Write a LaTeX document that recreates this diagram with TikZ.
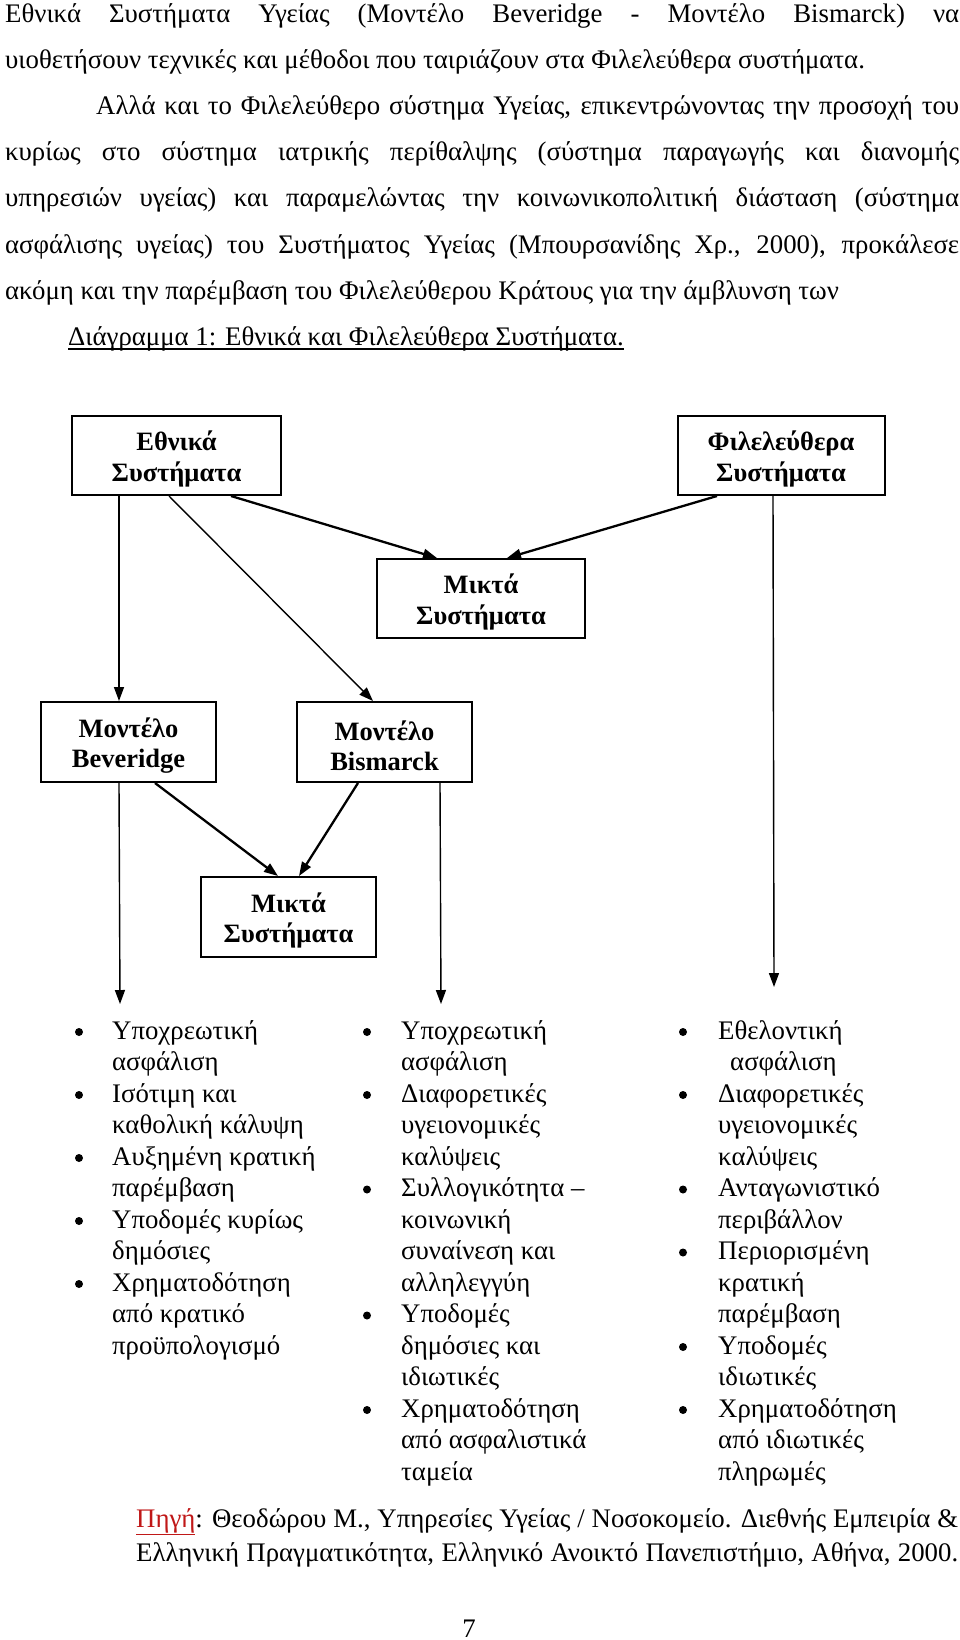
\documentclass[tikz,border=0pt]{standalone}
\usepackage{fontspec}
\setmainfont{Liberation Serif}
\usetikzlibrary{arrows.meta}
\definecolor{srcred}{RGB}{192,24,24}
\newcommand{\bxl}{\rule{0pt}{27pt}}
\begin{document}
\begin{tikzpicture}[x=1pt,y=-1pt,
  body/.style={anchor=base west, inner sep=0pt, font=\fontsize{26.8}{30}\selectfont},
  box/.style={draw, line width=2pt, inner sep=0pt, align=center,
    font=\bfseries\fontsize{26.5}{30.5}\selectfont, minimum height=79pt},
  thinarr/.style={line width=1.4pt, -{Triangle[length=14pt,width=10pt]}},
  thickarr/.style={line width=2.3pt, -{Triangle[length=14pt,width=10pt]}},
  item/.style={anchor=base west, inner sep=0pt, font=\fontsize{26.8}{30}\selectfont},
  bul/.style={circle, fill, inner sep=0pt, minimum size=8pt}]
\fill[white] (0,0) rectangle (960,1640);
\useasboundingbox (0,0) rectangle (960,1640);

% running text
\node[body] (t1) at (5,23) {\makebox[954pt][s]{Εθνικά Συστήματα Υγείας (Μοντέλο Beveridge - Μοντέλο Bismarck) να}};
\node[body] (t2) at (5,69) {υιοθετήσουν τεχνικές και μέθοδοι που ταιριάζουν στα Φιλελεύθερα συστήματα.};
\node[body] (t3) at (96,115) {\makebox[863pt][s]{Αλλά και το Φιλελεύθερο σύστημα Υγείας, επικεντρώνοντας την προσοχή του}};
\node[body] (t4) at (5,161) {\makebox[954pt][s]{κυρίως στο σύστημα ιατρικής περίθαλψης (σύστημα παραγωγής και διανομής}};
\node[body] (t5) at (5,207) {\makebox[954pt][s]{υπηρεσιών υγείας) και παραμελώντας την κοινωνικοπολιτική διάσταση (σύστημα}};
\node[body] (t6) at (5,253) {\makebox[954pt][s]{ασφάλισης υγείας) του Συστήματος Υγείας (Μπουρσανίδης Χρ., 2000), προκάλεσε}};
\node[body] (t7) at (5,299) {ακόμη και την παρέμβαση του Φιλελεύθερου Κράτους για την άμβλυνση των};
\node[body] (cap) at (68,345) {Διάγραμμα 1: Εθνικά και Φιλελεύθερα Συστήματα.};
\draw[line width=1.2pt] ([yshift=-4pt]cap.base west) -- ([yshift=-4pt]cap.base east);

% boxes
\node[box, minimum width=209pt] (ethn) at (176.5,455.5) {\bxl Εθνικά\\Συστήματα};
\node[box, minimum width=207pt] (fil) at (781,455.5) {\bxl Φιλελεύθερα\\Συστήματα};
\node[box, minimum width=208pt] (mix1) at (481,598.5) {\bxl Μικτά\\Συστήματα};
\node[box, minimum width=175pt, minimum height=80pt] (bev) at (128.5,742) {\bxl Μοντέλο\\Beveridge};
\node[box, minimum width=175pt, minimum height=80pt] (bis) at (384.5,742) {\bxl Μοντέλο\\Bismarck};
\node[box, minimum width=175pt, minimum height=80pt] (mix2) at (288.5,917) {\bxl Μικτά\\Συστήματα};

\coordinate (c1) at (120,1004);
\coordinate (c2) at (441,1004);
\coordinate (c3) at (774,987);

% connectors
\draw[thinarr] ([xshift=48pt]ethn.south west) -- ([xshift=79pt]bev.north west);
\draw[thinarr] ([xshift=98pt]ethn.south west) -- ([xshift=77pt]bis.north west);
\draw[thickarr] ([xshift=160pt]ethn.south west) -- ([xshift=61pt]mix1.north west);
\draw[thickarr] ([xshift=40.5pt]fil.south west) -- ([xshift=131pt]mix1.north west);
\draw[thinarr] ([xshift=96.5pt]fil.south west) -- (c3);
\draw[thinarr] ([xshift=79pt]bev.south west) -- (c1);
\draw[thickarr] ([xshift=115pt]bev.south west) -- ([xshift=78pt]mix2.north west);
\draw[thickarr] ([xshift=62pt]bis.south west) -- ([xshift=99pt]mix2.north west);
\draw[thinarr] ([xshift=144pt]bis.south west) -- (c2);

% lists
\foreach \t [count=\i from 0] in {Υποχρεωτική, ασφάλιση, Ισότιμη και, καθολική κάλυψη, Αυξημένη κρατική, παρέμβαση, Υποδομές κυρίως, δημόσιες, Χρηματοδότηση, από κρατικό, προϋπολογισμό}
  \node[item] (la\i) at (112,{1039+31.5*\i}) {\t};
\foreach \t [count=\i from 0] in {Υποχρεωτική, ασφάλιση, Διαφορετικές, υγειονομικές, καλύψεις, Συλλογικότητα –, κοινωνική, συναίνεση και, αλληλεγγύη, Υποδομές, δημόσιες και, ιδιωτικές, Χρηματοδότηση, από ασφαλιστικά, ταμεία}
  \node[item] (lb\i) at (401,{1039+31.5*\i}) {\t};
\foreach \t [count=\i from 0] in {Εθελοντική, \hspace*{12pt}ασφάλιση, Διαφορετικές, υγειονομικές, καλύψεις, Ανταγωνιστικό, περιβάλλον, Περιορισμένη, κρατική, παρέμβαση, Υποδομές, ιδιωτικές, Χρηματοδότηση, από ιδιωτικές, πληρωμές}
  \node[item] (lc\i) at (718,{1039+31.5*\i}) {\t};
\foreach \r in {0,2,4,6,8}
  \node[bul] (ba\r) at (79,{1032+31.5*\r}) {};
\foreach \r in {0,2,5,9,12}
  \node[bul] (bb\r) at (367,{1032+31.5*\r}) {};
\foreach \r in {0,2,5,7,10,12}
  \node[bul] (bc\r) at (683,{1032+31.5*\r}) {};

% source
\node[body] (src1) at (136,1527) {\makebox[822pt][s]{\textcolor{srcred}{\underline{Πηγή}}: Θεοδώρου Μ., Υπηρεσίες Υγείας / Νοσοκομείο. Διεθνής Εμπειρία \&}};
\node[body] (src2) at (136,1561) {\makebox[822pt][s]{Ελληνική Πραγματικότητα, Ελληνικό Ανοικτό Πανεπιστήμιο, Αθήνα, 2000.}};
\node[body, anchor=base] (pg) at (469,1637) {7};
\end{tikzpicture}
\end{document}
